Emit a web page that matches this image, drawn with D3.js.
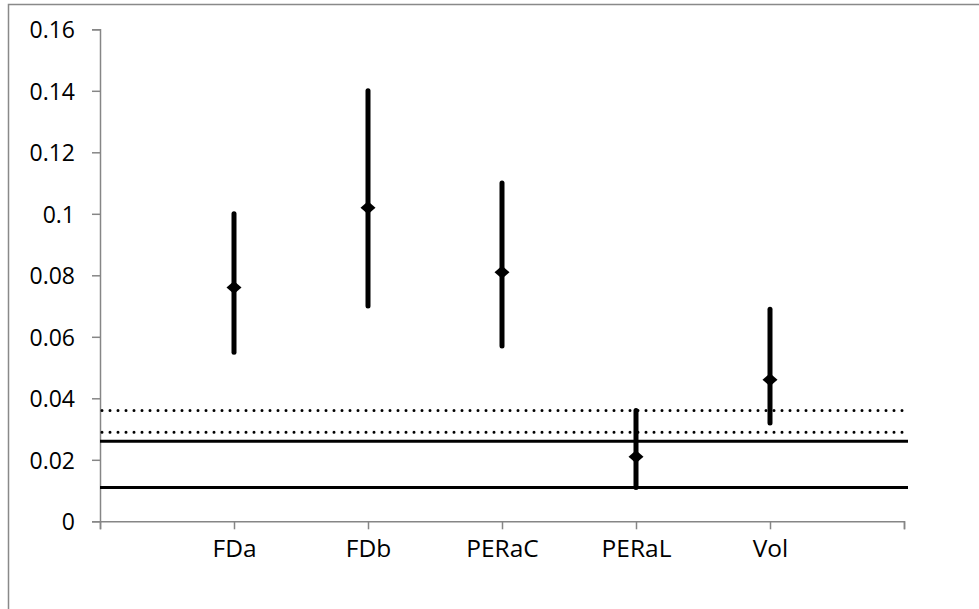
<!DOCTYPE html>
<html>
<head>
<meta charset="utf-8">
<script src="https://cdn.jsdelivr.net/npm/d3@7"></script>
<style>
  body { margin: 0; background: #fff; }
  text { font-family: "Open Sans", "Liberation Sans", sans-serif; fill: #000; }
</style>
</head>
<body>
<div id="vis"></div>
<script>
// categories (blank slots at both ends, like the original axis)
var categories = ["", "FDa", "FDb", "PERaC", "PERaL", "Vol", " "];
var names = ["FDa", "FDb", "PERaC", "PERaL", "Vol"];
var means = [0.076, 0.102, 0.081, 0.021, 0.046];
var highs = [0.100, 0.140, 0.110, 0.036, 0.069];
var lows  = [0.055, 0.070, 0.057, 0.011, 0.032];

// reference lines
var solidLines = [0.026, 0.011];
var dottedLines = [0.036, 0.029];

var yTicks = [0, 0.02, 0.04, 0.06, 0.08, 0.1, 0.12, 0.14, 0.16];

var width = 979, height = 609;

var svg = d3.select("#vis").append("svg")
  .attr("width", width).attr("height", height);

// outer frame
svg.append("rect")
  .attr("x", 8.5).attr("y", 4.5)
  .attr("width", width + 20).attr("height", height + 20)
  .attr("fill", "none").attr("stroke", "#898989").attr("stroke-width", 1.5);

var x = d3.scalePoint().domain(categories).range([100, 904]);
var y = d3.scaleLinear().domain([0, 0.16]).range([521.3, 29.3]);

// y axis
var yAxis = svg.append("g")
  .attr("transform", "translate(100,0)")
  .call(d3.axisLeft(y).tickValues(yTicks).tickSize(8).tickPadding(17)
    .tickFormat(function(d){ return d === 0 ? "0" : String(+d.toFixed(2)); }));
yAxis.selectAll("text").style("font-size", "23px").attr("dy", "0.36em");

// x axis
var xAxis = svg.append("g")
  .attr("transform", "translate(0," + y(0) + ")")
  .call(d3.axisBottom(x).tickSize(8).tickPadding(10));
xAxis.selectAll("text").style("font-size", "24.5px");

svg.selectAll(".domain, .tick line").attr("stroke", "#868686").attr("stroke-width", 1.5);

var x0 = x.range()[0], x1 = x.range()[1];

// horizontal reference lines
svg.selectAll(".solid").data(solidLines).enter().append("line")
  .attr("class", "solid")
  .attr("x1", x0).attr("x2", x1 + 4)
  .attr("y1", function(d){ return y(d); }).attr("y2", function(d){ return y(d); })
  .attr("stroke", "#000").attr("stroke-width", 3);

svg.selectAll(".dotted").data(dottedLines).enter().append("line")
  .attr("class", "dotted")
  .attr("x1", x0 + 2).attr("x2", x1 + 2)
  .attr("y1", function(d){ return y(d); }).attr("y2", function(d){ return y(d); })
  .attr("stroke", "#000").attr("stroke-width", 3)
  .attr("stroke-linecap", "round").attr("stroke-dasharray", "0 8");

// error bars
svg.selectAll(".bar").data(names).enter().append("line")
  .attr("class", "bar")
  .attr("x1", function(d){ return x(d); }).attr("x2", function(d){ return x(d); })
  .attr("y1", function(d, i){ return y(highs[i]); })
  .attr("y2", function(d, i){ return y(lows[i]); })
  .attr("stroke", "#000").attr("stroke-width", 5).attr("stroke-linecap", "round");

// diamond markers
svg.selectAll(".mark").data(names).enter().append("path")
  .attr("class", "mark")
  .attr("d", "M-7.5,0L0,-6.5L7.5,0L0,6.5Z")
  .attr("transform", function(d, i){ return "translate(" + x(d) + "," + y(means[i]) + ")"; })
  .attr("fill", "#000");
</script>
</body>
</html>
